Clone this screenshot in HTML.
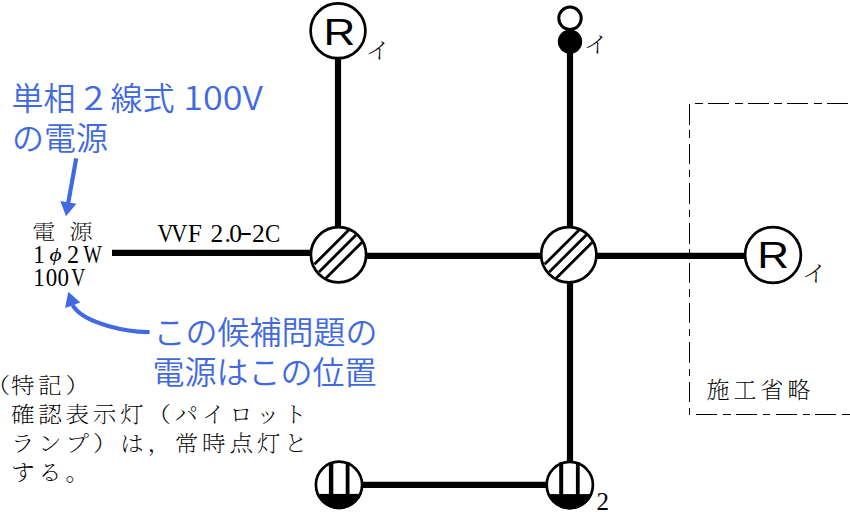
<!DOCTYPE html>
<html lang="ja">
<head>
<meta charset="utf-8">
<title>単相2線式100Vの電源</title>
<style>
html,body{margin:0;padding:0;background:#fff;}
body{width:850px;height:512px;overflow:hidden;}
svg{display:block;}
.blue{font-family:"Liberation Sans","Noto Sans CJK JP",sans-serif;font-size:32px;fill:#4169e1;font-weight:350;}
.blue .lat{font-family:"Noto Sans CJK JP",sans-serif;}
.min{font-family:"Liberation Serif","Noto Serif CJK SC",serif;fill:#000;font-weight:200;}
.ser{font-family:"Liberation Serif",serif;fill:#000;}
.rr{font-family:"Liberation Sans",sans-serif;fill:#000;}
</style>
</head>
<body>
<svg width="850" height="512" viewBox="0 0 850 512">
<rect width="850" height="512" fill="#fff"/>

<!-- wires -->
<g stroke="#000" stroke-width="6.2" fill="none">
  <line x1="112" y1="252.9" x2="311" y2="252.9"/>
  <line x1="366" y1="255.8" x2="745" y2="255.8"/>
  <line x1="338" y1="58" x2="338" y2="228"/>
  <line x1="570" y1="50" x2="570" y2="462"/>
  <line x1="362" y1="484.8" x2="547" y2="484.8"/>
</g>

<!-- lamp R top -->
<circle cx="338" cy="30.8" r="27.4" fill="#fff" stroke="#000" stroke-width="2.7"/>
<!-- lamp R right -->
<circle cx="773" cy="255" r="27.9" fill="#fff" stroke="#000" stroke-width="2.7"/>

<!-- junction boxes -->
<g id="jb1">
  <circle cx="338.5" cy="254.7" r="27.6" fill="#fff" stroke="#000" stroke-width="2.7"/>
  <g stroke="#000" stroke-width="2.8">
    <line x1="314.4" y1="264.3" x2="349" y2="229.7"/>
    <line x1="319" y1="272" x2="356" y2="235"/>
    <line x1="325.6" y1="278.6" x2="362" y2="242.2"/>
  </g>
</g>
<g transform="translate(230.3,0)">
  <circle cx="338.5" cy="254.7" r="27.6" fill="#fff" stroke="#000" stroke-width="2.7"/>
  <g stroke="#000" stroke-width="2.8">
    <line x1="314.4" y1="264.3" x2="349" y2="229.7"/>
    <line x1="319" y1="272" x2="356" y2="235"/>
    <line x1="325.6" y1="278.6" x2="362" y2="242.2"/>
  </g>
</g>

<!-- switch -->
<circle cx="570" cy="18.3" r="11.2" fill="#fff" stroke="#000" stroke-width="3"/>
<circle cx="570" cy="41.6" r="12.2" fill="#000"/>

<!-- receptacles -->
<defs>
  <clipPath id="cp1"><circle cx="339" cy="484.8" r="24.4"/></clipPath>
</defs>
<g id="rc1">
  <circle cx="339" cy="484.8" r="23.1" fill="#fff" stroke="#000" stroke-width="2.7"/>
  <rect x="312" y="493.9" width="54" height="18" fill="#000" clip-path="url(#cp1)"/>
  <line x1="331.1" y1="462" x2="331.1" y2="495" stroke="#000" stroke-width="4.4"/>
  <line x1="347.6" y1="462" x2="347.6" y2="495" stroke="#000" stroke-width="3.8"/>
</g>
<g transform="translate(230.8,0.2)">
  <circle cx="339" cy="484.8" r="23.1" fill="#fff" stroke="#000" stroke-width="2.7"/>
  <rect x="312" y="493.9" width="54" height="18" fill="#000" clip-path="url(#cp1)"/>
  <line x1="330.4" y1="462" x2="330.4" y2="495" stroke="#000" stroke-width="4"/>
  <line x1="347" y1="462" x2="347" y2="495" stroke="#000" stroke-width="3.8"/>
</g>

<!-- dashed box -->
<g stroke="#000" stroke-width="1" fill="none" shape-rendering="crispEdges">
  <path d="M689.5 104 V415.4" stroke-dasharray="20.5 5.8 7.4 6"/>
  <path d="M695 103.5 H850" stroke-dasharray="8 5 21 5.7"/>
  <path d="M696 414.5 H850" stroke-dasharray="21 6 7.5 5.3"/>
</g>

<!-- R letters -->
<text class="rr" transform="translate(323.6,45.3) scale(1.18,1)" font-size="37.3">R</text>
<text class="rr" transform="translate(757.3,268.1) scale(1.18,1)" font-size="37.3">R</text>

<!-- small labels -->
<g class="min" font-size="22">
  <text transform="translate(364.8,57.7) scale(1.22,1)">イ</text>
  <text transform="translate(582.8,51.7) scale(1.22,1)">イ</text>
  <text transform="translate(801.3,281) scale(1.22,1)">イ</text>
</g>
<text class="ser" x="596.5" y="510" font-size="25">2</text>

<!-- blue annotations -->
<g class="blue">
  <text x="11.4" y="109.5">単相</text>
  <text class="lat" transform="translate(83.5,109.5) scale(1.15,1)">2</text>
  <text x="110.5" y="109.5">線式</text>
  <text class="lat" transform="translate(183.2,109.5) scale(1.125,1)">100V</text>
  <text x="12" y="149.5">の電源</text>
  <text x="153.5" y="344">この候補問題の</text>
  <text x="152.5" y="384">電源はこの位置</text>
</g>
<g stroke="#4169e1" stroke-width="4.2" fill="none">
  <line x1="76.2" y1="158.4" x2="68.2" y2="203"/>
  <path d="M149.6 332 C131 332.5 83.2 324.4 72.6 305.1"/>
</g>
<g fill="#4169e1">
  <polygon points="60.3,201 76.4,203.7 66,216.3"/>
  <polygon points="68.3,291.8 80.3,302.5 65.1,308"/>
</g>

<!-- source label -->
<g class="min" font-size="21" font-weight="300">
  <text transform="translate(32.3,239.2) scale(1.1,1)">電</text>
  <text transform="translate(69.6,239.2) scale(1.1,1)">源</text>
</g>
<g class="ser" font-size="25.5">
  <text transform="translate(33.2,262.7) scale(0.9,1)">1</text>
  <text transform="translate(49.6,260.8) scale(1.3,1)" font-style="italic" font-size="18">ϕ</text>
  <text transform="translate(67,262.7) scale(0.95,1)">2</text>
  <text transform="translate(83.5,262.7) scale(0.76,1)">W</text>
  <text transform="translate(33.2,286.1) scale(0.9,1)">1</text>
  <text transform="translate(45.8,286.1) scale(0.9,1)">0</text>
  <text transform="translate(57.5,286.1) scale(0.9,1)">0</text>
  <text transform="translate(71.3,286.1) scale(0.76,1)">V</text>
  <text transform="translate(157.6,242) scale(0.87,1)">V</text>
  <text transform="translate(171.3,242) scale(0.87,1)">V</text>
  <text x="187.8 204 210.6 224.6 229.2" y="242">F 2.0</text>
  <text transform="translate(239.8,240.2) scale(1.45,1)">-</text>
  <text x="252" y="242">2</text>
  <text transform="translate(265,242) scale(0.9,1)">C</text>
</g>

<!-- note -->
<g class="min" font-size="21.6" letter-spacing="3.35" transform="scale(1.094,1)">
  <text x="-12.43" y="392.8">（</text>
  <text x="9.96" y="392.8">特記）</text>
  <text x="9.96" y="421.6">確認表示灯（パイロット</text>
  <text x="9.96" y="450.8">ランプ）は，常時点灯と</text>
  <text x="9.96" y="479.6">する。</text>
</g>
<text class="min" x="706.5" y="397.5" font-size="23" letter-spacing="4">施工省略</text>
</svg>
</body>
</html>
